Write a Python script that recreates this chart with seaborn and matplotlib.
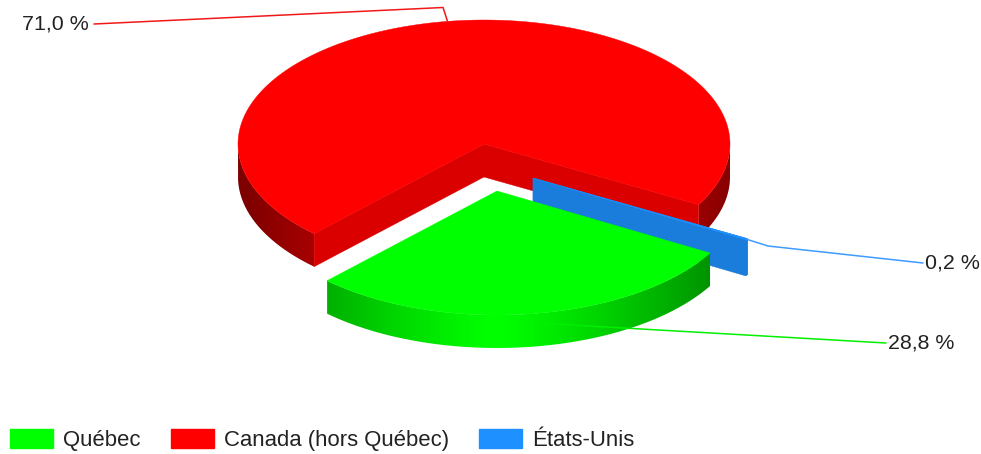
import numpy as np
import matplotlib
matplotlib.use("Agg")
import matplotlib.pyplot as plt
from matplotlib.colors import to_rgb, ListedColormap
from matplotlib.patches import Patch, PathPatch, Polygon
from matplotlib.path import Path
import seaborn as sns

# Data
categories = ["Québec", "Canada (hors Québec)", "États-Unis"]
shares = [28.8, 71.0, 0.2]
labels = ["28,8 %", "71,0 %", "0,2 %"]

# Styles and layout (pixel space of the 981x454 figure)
colors = ["#00FF00", "#FF0000", "#1E90FF"]
line_colors = ["#00F000", "#F01818", "#3C9CFF"]
first_slice_deg = -30.0           # where Québec begins, slices run clockwise
centers = {0: (497, 191), 1: (484, 144), 2: (533, 178)}
depths = {0: 33, 1: 33, 2: 36}
RX, RY = 246, 124
LIGHT_X = 495
label_xy = {0: (888, 343), 1: (89, 24), 2: (925, 263)}
elbow = {0: (536, 323), 1: (443, 7.5), 2: (768, 246)}

sns.set_theme(style="white")
plt.rcParams["font.family"] = ["Liberation Sans", "DejaVu Sans"]

fig = plt.figure(figsize=(9.81, 4.54), dpi=100)
ax = fig.add_axes([0, 0, 1, 1])
ax.axis("off")

# slice angle ranges computed from the shares
spans = np.array(shares) / sum(shares) * 360
starts = first_slice_deg - np.concatenate([[0], np.cumsum(spans)[:-1]])

z = [1]


def next_z():
    z[0] += 1
    return z[0]


def rim(i, deg):
    cx, cy = centers[i]
    a = np.radians(deg)
    return cx + RX * np.cos(a), cy - RY * np.sin(a)


def draw_wall(i, run):
    """Smooth horizontal light gradient clipped to one outer-wall band."""
    rgb = np.array(to_rgb(colors[i]))
    upper = [rim(i, d) for d in run]
    lower = [(x, y + depths[i]) for x, y in upper][::-1]
    pts = upper + lower + [upper[0]]
    path = Path(pts)
    xs = np.arange(0, 981)
    k = np.clip(1 - 0.5 * (np.abs(xs - LIGHT_X) / RX) ** 1.25, 0.5, 1)
    cmap = ListedColormap([tuple(rgb * v) for v in k])
    zorder = next_z()
    im = ax.imshow(xs[None, :], extent=(0, 981, 454, 0), aspect="auto", cmap=cmap,
                   vmin=0, vmax=980, interpolation="nearest", zorder=zorder)
    im.set_clip_path(PathPatch(path, transform=ax.transData))


def draw_slice(i):
    rgb = to_rgb(colors[i])
    a0, a1 = starts[i], starts[i] - spans[i]
    cx, cy = centers[i]
    degs = np.append(np.arange(a0, a1, -0.5), a1)

    # outer wall: only the runs on the lower half of the ellipse are visible
    lower = np.sin(np.radians(degs)) <= 0
    breaks = np.flatnonzero(np.diff(lower.astype(int))) + 1
    for run, flags in zip(np.split(degs, breaks), np.split(lower, breaks)):
        if flags[0] and len(run) > 1:
            draw_wall(i, run)

    # radial cut faces (Québec's face backwards and stay hidden)
    dark = tuple(c * 0.86 for c in rgb)
    if i != 0:
        for d in (a0, a1):
            x, y = rim(i, d)
            ax.add_patch(Polygon([(cx, cy), (x, y), (x, y + depths[i]), (cx, cy + depths[i])],
                                 facecolor=dark, edgecolor=dark, lw=0.3, zorder=next_z()))

    # top surface
    pts = [(cx, cy)] + [rim(i, d) for d in degs]
    ax.add_patch(Polygon(pts, facecolor=rgb, edgecolor=rgb, lw=0.3, zorder=next_z()))


for i in (1, 2, 0):
    draw_slice(i)

# leader lines and value labels, anchored at each slice's mid angle
for i in range(3):
    px, py = rim(i, starts[i] - spans[i] / 2)
    ex, ey = elbow[i]
    lx, ly = label_xy[i]
    end_x = lx + 5 if i == 1 else lx - 2
    ax.plot([px, ex, end_x], [py, ey, ly], color=line_colors[i], lw=1.1,
            solid_joinstyle="miter", zorder=next_z())
    ax.text(lx, ly, labels[i], ha="right" if i == 1 else "left", va="center",
            fontsize=15.4, color="#222222", zorder=next_z())

handles = [Patch(facecolor=c, edgecolor=c, label=n) for c, n in zip(colors, categories)]
ax.legend(handles=handles, ncols=3, loc="lower left", bbox_to_anchor=(10 / 981, 3 / 454),
          frameon=False, fontsize=15.9, borderpad=0, borderaxespad=0,
          handlelength=1.95, handleheight=0.9, handletextpad=0.45, columnspacing=1.36,
          labelcolor="#222222")

ax.set_xlim(0, 981)
ax.set_ylim(454, 0)

fig.savefig("out.png", dpi=100)
